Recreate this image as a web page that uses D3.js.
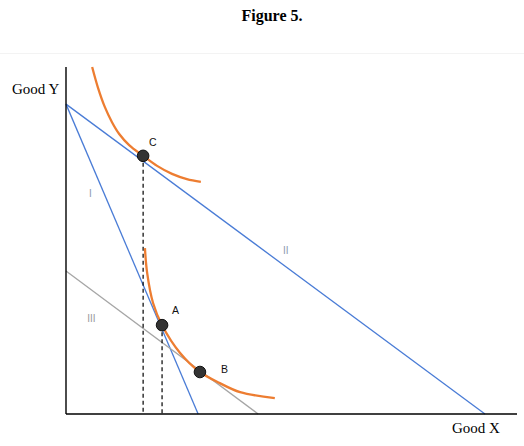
<!DOCTYPE html>
<html>
<head>
<meta charset="utf-8">
<script src="https://cdn.jsdelivr.net/npm/d3@7"></script>
<style>
  body { margin: 0; background: #fff; }
  svg { display: block; }
</style>
</head>
<body>
<div id="chart"></div>
<script>
// budget lines: y-intercept and x-intercept (data units)
const budgetNames = ["I", "II", "III"];
const budgetYInt = [89.3, 89.3, 41.2];
const budgetXInt = [29.3, 92.9, 42.6];

// indifference curves
const upperCurve = [
  [5.8, 100], [7.1, 94.0], [8.6, 88.5], [10.2, 84.1], [11.8, 80.7],
  [14.0, 77.5], [17.1, 74.4], [20.2, 71.5], [23.5, 69.2], [26.8, 67.7], [29.9, 66.9],
];
const lowerCurve = [
  [17.5, 47.8], [18.0, 40.6], [19.3, 32.0], [21.3, 25.6], [25.3, 17.6],
  [29.7, 12.1], [34.1, 8.9], [38.6, 6.3], [46.3, 4.6],
];

// equilibrium points
const pointNames = ["C", "A", "B"];
const pointX = [17.1, 21.3, 29.7];
const pointY = [74.4, 25.6, 12.1];

const width = 524, height = 446;
const svg = d3.select("#chart").append("svg")
  .attr("width", width)
  .attr("height", height);

const x = d3.scaleLinear().domain([0, 100]).range([66, 517]);
const y = d3.scaleLinear().domain([0, 100]).range([414, 67]);

// faint frame edge under the title
svg.append("line")
  .attr("x1", 0).attr("x2", width)
  .attr("y1", 53.5).attr("y2", 53.5)
  .attr("stroke", "#f3f3f3");

svg.append("text")
  .attr("x", 272).attr("y", 21)
  .attr("text-anchor", "middle")
  .attr("font-family", "Liberation Serif, Times New Roman, serif")
  .attr("font-weight", "bold")
  .attr("font-size", "16px")
  .text("Figure 5.");

// budget lines
const lineColors = ["#4a7cd6", "#4a7cd6", "#a6a6a6"];
svg.append("g")
  .selectAll("line")
  .data(budgetNames)
  .join("line")
  .attr("x1", x(0))
  .attr("y1", (d, i) => y(budgetYInt[i]))
  .attr("x2", (d, i) => x(budgetXInt[i]))
  .attr("y2", y(0))
  .attr("stroke", (d, i) => lineColors[i])
  .attr("stroke-width", 1.3);

// dashed drop lines from C and A
svg.append("g")
  .selectAll("line")
  .data([0, 1])
  .join("line")
  .attr("x1", (i) => x(pointX[i]))
  .attr("x2", (i) => x(pointX[i]))
  .attr("y1", (i) => y(pointY[i]))
  .attr("y2", y(0))
  .attr("stroke", "#000")
  .attr("stroke-width", 1.2)
  .attr("stroke-dasharray", "4,3");

// indifference curves
const curve = d3.line()
  .x((d) => x(d[0]))
  .y((d) => y(d[1]))
  .curve(d3.curveCatmullRom.alpha(0.5));

svg.append("g")
  .selectAll("path")
  .data([upperCurve, lowerCurve])
  .join("path")
  .attr("d", curve)
  .attr("fill", "none")
  .attr("stroke", "#ed7d31")
  .attr("stroke-width", 2.3);

// axes (plain lines, no ticks)
svg.append("line")
  .attr("x1", x(0)).attr("x2", x(0))
  .attr("y1", y(100)).attr("y2", y(0))
  .attr("stroke", "#000").attr("stroke-width", 1.4);
svg.append("line")
  .attr("x1", x(0)).attr("x2", x(100))
  .attr("y1", y(0)).attr("y2", y(0))
  .attr("stroke", "#000").attr("stroke-width", 1.4);

svg.append("text")
  .attr("x", 12).attr("y", 94)
  .attr("font-family", "Liberation Serif, Times New Roman, serif")
  .attr("font-size", "15px")
  .text("Good Y");
svg.append("text")
  .attr("x", 452).attr("y", 433)
  .attr("font-family", "Liberation Serif, Times New Roman, serif")
  .attr("font-size", "15px")
  .text("Good X");

// points and their labels
const labelOffsets = [[6, -10], [10, -11], [21, 1]];
svg.append("g")
  .selectAll("circle")
  .data(pointNames)
  .join("circle")
  .attr("cx", (d, i) => x(pointX[i]))
  .attr("cy", (d, i) => y(pointY[i]))
  .attr("r", 5.8)
  .attr("fill", "#333")
  .attr("stroke", "#111")
  .attr("stroke-width", 1);

svg.append("g")
  .selectAll("text")
  .data(pointNames)
  .join("text")
  .attr("x", (d, i) => x(pointX[i]) + labelOffsets[i][0])
  .attr("y", (d, i) => y(pointY[i]) + labelOffsets[i][1])
  .attr("font-family", "Liberation Sans, Arial, sans-serif")
  .attr("font-size", "10.5px")
  .attr("fill", "#111")
  .text((d) => d);

// roman numeral labels for budget lines
const romanX = [5.1, 48.1, 4.7];
const romanY = [62.5, 46.1, 26.5];
svg.append("g")
  .selectAll("text")
  .data(budgetNames)
  .join("text")
  .attr("x", (d, i) => x(romanX[i]))
  .attr("y", (d, i) => y(romanY[i]))
  .attr("font-family", "Liberation Sans, Arial, sans-serif")
  .attr("font-size", "10px")
  .attr("fill", (d, i) => (i < 2 ? "#8e9bb0" : "#9a9a9a"))
  .text((d) => d);
</script>
</body>
</html>
